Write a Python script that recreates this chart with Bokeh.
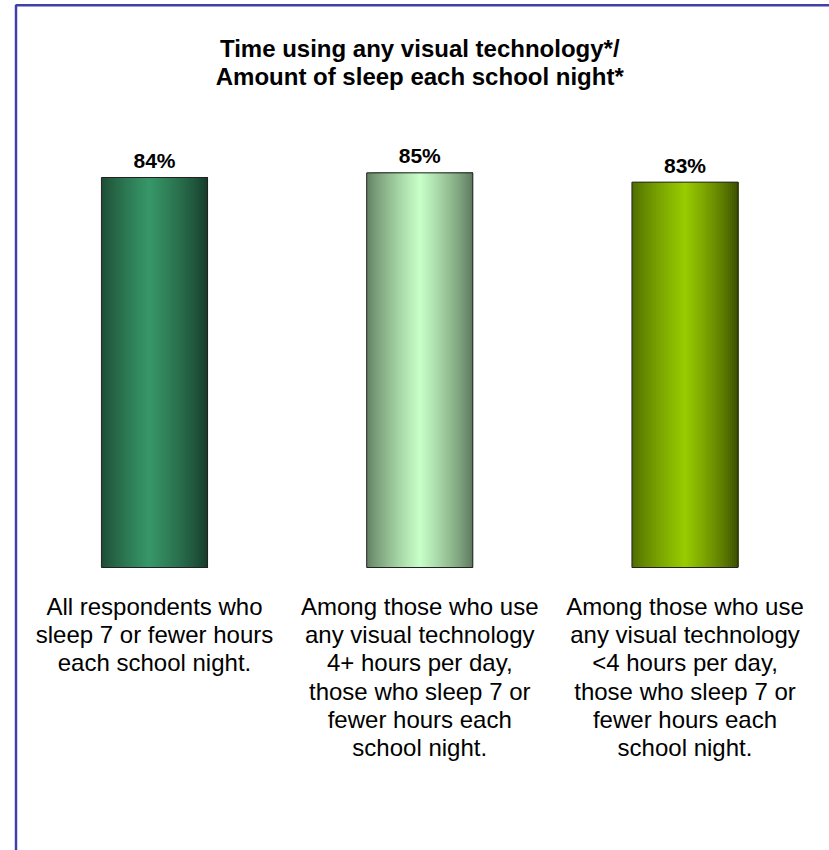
from bokeh.plotting import figure
from bokeh.models import ColumnDataSource, Range1d, BoxAnnotation
from bokeh.core.properties import value
from bokeh.embed import file_html
from bokeh.resources import INLINE

# ---- data ----
categories = [
    "All respondents who\nsleep 7 or fewer hours\neach school night.",
    "Among those who use\nany visual technology\n4+ hours per day,\nthose who sleep 7 or\nfewer hours each\nschool night.",
    "Among those who use\nany visual technology\n<4 hours per day,\nthose who sleep 7 or\nfewer hours each\nschool night.",
]
values = [84, 85, 83]
value_labels = ["84%", "85%", "83%"]
title_lines = ["Time using any visual technology*/", "Amount of sleep each school night*"]

# ---- styling (colours of each bar: left edge, centre, right edge) ----
bar_shades = [
    ("#1d4a34", "#379868", "#163a29"),
    ("#5f7d5f", "#c8ffc8", "#5a755a"),
    ("#4d6a00", "#99cc00", "#394c00"),
]
peak_pos = [0.45, 0.5, 0.5]

W, H = 829, 850
x_px_per_unit = 265.25
first_center_px = 154.0
y_px_per_unit = 4.643
baseline_px = 567.0  # from top of figure

x_start = -first_center_px / x_px_per_unit
x_end = x_start + W / x_px_per_unit
y_start = -(H - baseline_px) / y_px_per_unit
y_end = y_start + H / y_px_per_unit

bar_w = 0.4
N = 53


def hex2rgb(h):
    h = h.lstrip("#")
    return tuple(int(h[i:i + 2], 16) for i in (0, 2, 4))


def mix(a, b, f):
    ra, rb = hex2rgb(a), hex2rgb(b)
    return "#%02x%02x%02x" % tuple(int(round(ra[i] + (rb[i] - ra[i]) * f)) for i in range(3))


sl, sr, stop, sc = [], [], [], []
for i, v in enumerate(values):
    left, mid, right = bar_shades[i]
    pk = peak_pos[i]
    for k in range(N):
        t = (k + 0.5) / N
        if t <= pk:
            f = (t / pk) ** 0.8
            col = mix(left, mid, f)
        else:
            f = ((1 - t) / (1 - pk)) ** 0.8
            col = mix(right, mid, f)
        sl.append(i - bar_w / 2 + k / N * bar_w)
        sr.append(i + bar_w / 2)
        stop.append(v)
        sc.append(col)

strips = ColumnDataSource(dict(l=sl, r=sr, top=stop, c=sc))
bars = ColumnDataSource(dict(x=list(range(len(values))), top=values, lab=value_labels, cat=categories))

p = figure(width=W, height=H, output_backend="svg", toolbar_location=None,
           x_range=Range1d(x_start, x_end), y_range=Range1d(y_start, y_end),
           min_border=0, min_border_left=0, min_border_right=0,
           min_border_top=0, min_border_bottom=0)
p.xaxis.visible = False
p.yaxis.visible = False
p.grid.visible = False
p.outline_line_color = None
p.background_fill_color = "white"
p.border_fill_color = "white"

p.quad(left="l", right="r", top="top", bottom=0, source=strips,
       fill_color="c", line_color=None)
p.vbar(x="x", top="top", width=bar_w, bottom=0, source=bars,
       fill_color=None, line_color="#222222", line_width=1)

p.text(x="x", y="top", text="lab", source=bars, text_align="center",
       text_baseline="alphabetic", y_offset=-17,
       text_font=value("Liberation Sans"), text_font_style="bold",
       text_font_size="21px", text_color="black")

p.text(x="x", y=0, text="cat", source=bars, text_align="center",
       text_baseline="top", y_offset=25, text_line_height=1.05,
       text_font=value("Liberation Sans"), text_font_size="24px",
       text_color="black")

title_baselines_px = [48, 76]
tsrc = ColumnDataSource(dict(
    x=[1] * len(title_lines),
    y=[y_end - b / y_px_per_unit for b in title_baselines_px],
    t=title_lines))
p.text(x="x", y="y", text="t", source=tsrc, text_align="center",
       text_baseline="alphabetic", text_font=value("Liberation Sans"),
       text_font_style="bold", text_font_size="24px", text_color="black")

border = BoxAnnotation(left=x_start + 15.5 / x_px_per_unit, right=x_end + 1,
                       top=y_end - 4.7 / y_px_per_unit, bottom=y_start - 10,
                       fill_alpha=0, line_alpha=1.0, line_color="#4040a8",
                       line_width=2.5)
p.add_layout(border)

open("out.html", "w").write(file_html(p, INLINE))
